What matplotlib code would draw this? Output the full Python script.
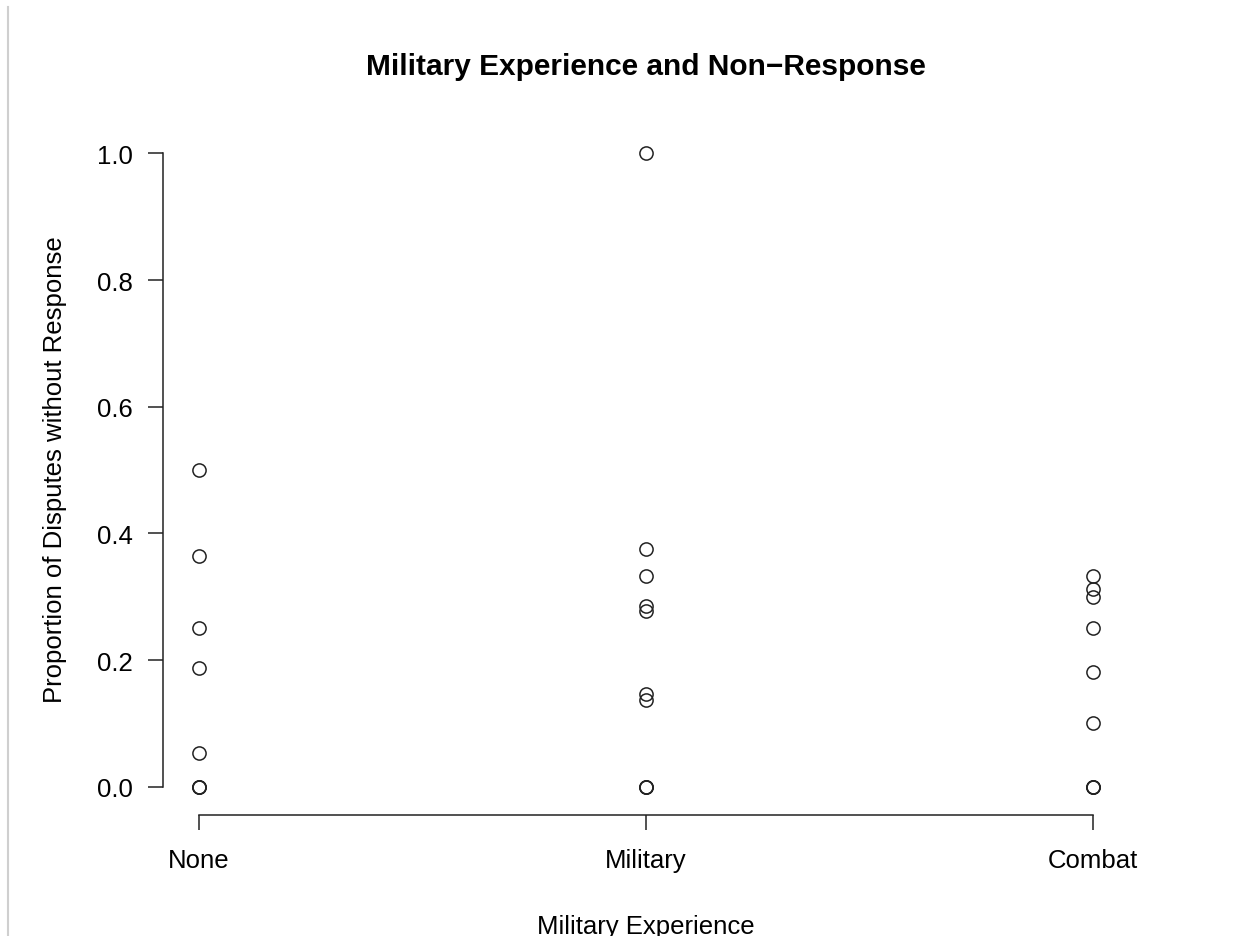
import matplotlib
matplotlib.use("Agg")
import matplotlib.pyplot as plt
from matplotlib.lines import Line2D

plt.rcParams['font.family'] = ['Liberation Sans', 'DejaVu Sans']

categories = ["None", "Military", "Combat"]
none_vals = [0.5, 0.3636, 0.25, 0.1875, 0.0526, 0.0, 0.0, 0.0]
military_vals = [1.0, 0.375, 0.3333, 0.2857, 0.2778, 0.1463, 0.1364, 0.0, 0.0, 0.0]
combat_vals = [0.3333, 0.3125, 0.30, 0.25, 0.1818, 0.10, 0.0, 0.0, 0.0]
y_ticks = [0.0, 0.2, 0.4, 0.6, 0.8, 1.0]

fig = plt.figure(figsize=(12.5, 9.37), dpi=100)
ax = fig.add_axes([0.1304, 0.1323, 0.9032 - 0.1304, 0.8623 - 0.1323])

for i, vals in enumerate([none_vals, military_vals, combat_vals], start=1):
    ax.plot([i] * len(vals), vals, linestyle='none', marker='o',
            markersize=9.5, markerfacecolor='none', markeredgecolor='#222222',
            markeredgewidth=1.1)

# R-style axes: spines only span the data range, offset from the plot region
for side in ['top', 'right']:
    ax.spines[side].set_visible(False)
ax.spines['bottom'].set_position(('outward', 2))
ax.spines['left'].set_bounds(0, 1)
ax.spines['bottom'].set_bounds(1, 3)
for side in ['left', 'bottom']:
    ax.spines[side].set_linewidth(1.1)
    ax.spines[side].set_color('#222222')

ax.set_xlim(0.92, 3.08)
ax.set_ylim(-0.04, 1.04)
ax.set_xticks([1, 2, 3])
ax.set_xticklabels(categories)
ax.set_yticks(y_ticks)
ax.set_yticklabels([f"{v:.1f}" for v in y_ticks])

ax.tick_params(axis='both', direction='out', length=11, width=1.1,
               color='#222222', labelsize=18.5)
ax.tick_params(axis='y', pad=11)
ax.tick_params(axis='x', pad=13)

fig.text(646 / 1250, 1 - 75 / 937, "Military Experience and Non\u2212Response",
         ha='center', va='baseline', fontsize=21.5, fontweight='bold')
fig.text(55 / 1250, 1 - 470 / 937, "Proportion of Disputes without Response",
         ha='center', va='center', rotation=90, fontsize=18.5)
fig.text(646 / 1250, 1 - 934 / 937, "Military Experience",
         ha='center', va='baseline', fontsize=18.5)

fig.add_artist(Line2D([8 / 1250, 8 / 1250], [0, 1 - 8 / 937],
                      transform=fig.transFigure, color='#cfcfcf', linewidth=1.5))

fig.savefig("out.png", dpi=100)
